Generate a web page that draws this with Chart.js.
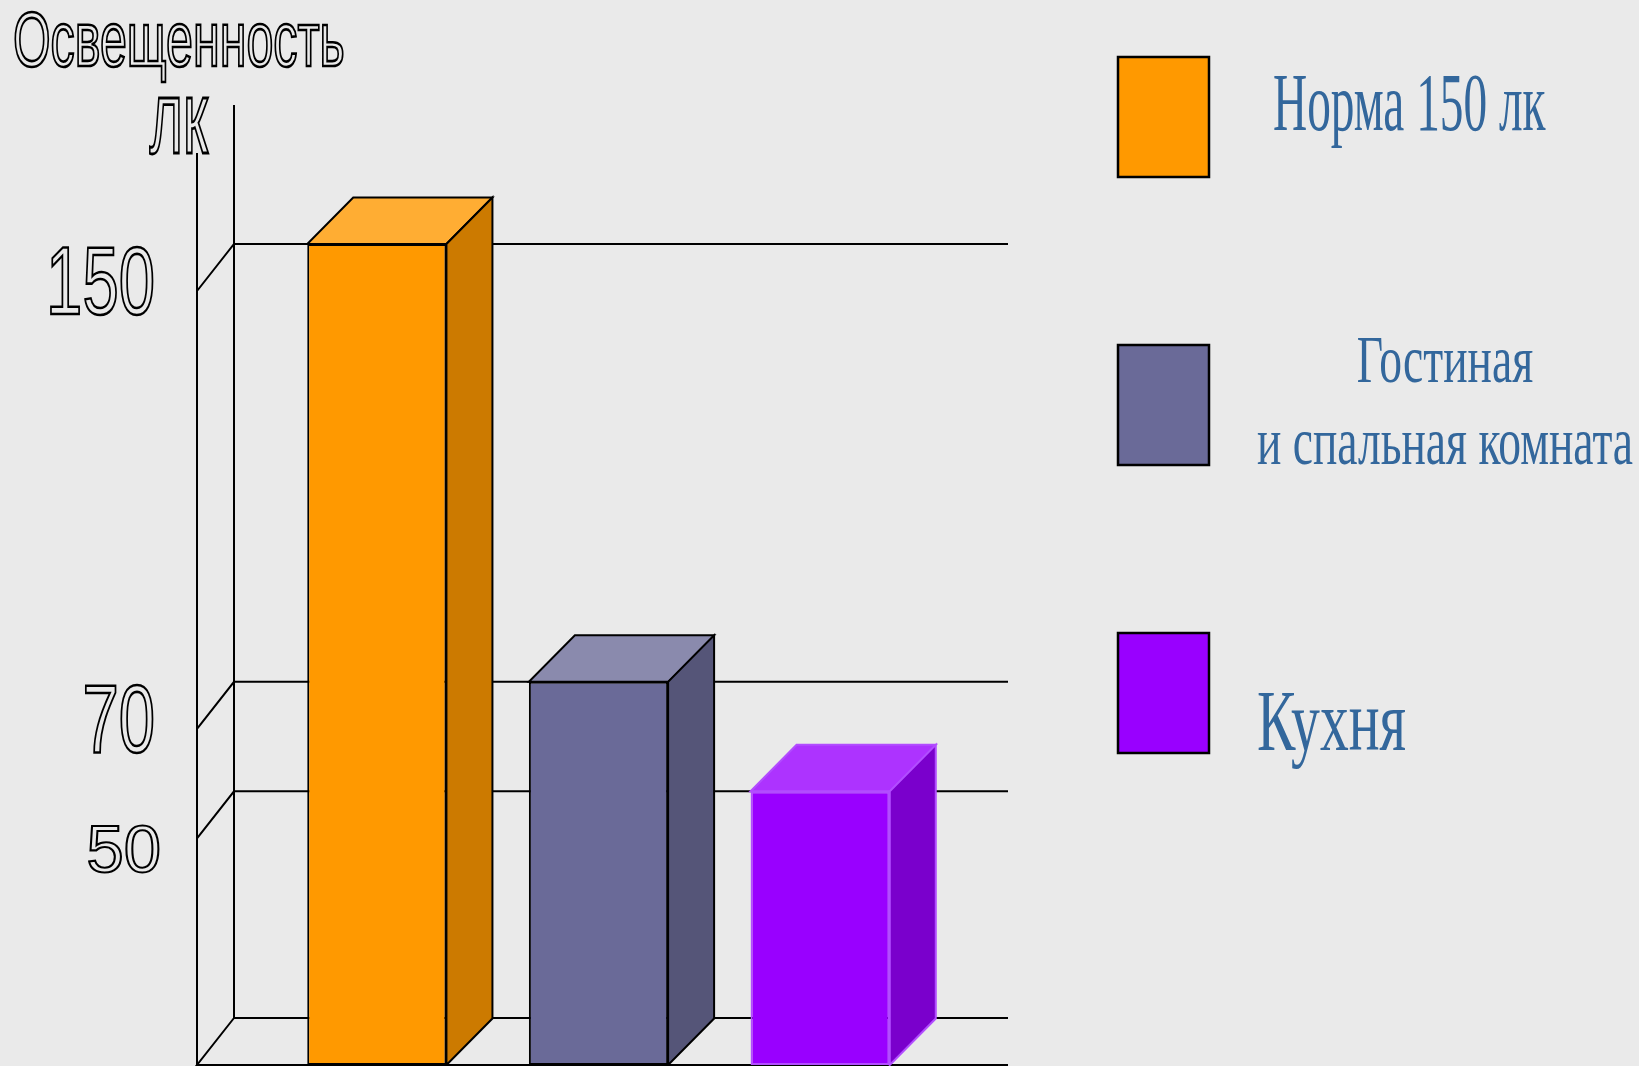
<!DOCTYPE html>
<html lang="ru">
<head>
<meta charset="utf-8">
<title>Освещенность</title>
<script src="https://cdn.jsdelivr.net/npm/chart.js@4.4.1/dist/chart.umd.min.js"></script>
<style>
  html, body { margin: 0; padding: 0; background: #eaeaea; overflow: hidden; }
  canvas { display: block; }
</style>
</head>
<body>
<canvas id="lightChart" width="1639" height="1066"></canvas>
<script>
const rooms = ['Норма 150 лк', 'Гостиная и спальная комната', 'Кухня'];
const legendLines = [['Норма 150 лк'], ['Гостиная', 'и спальная комната'], ['Кухня']];
const illuminance = [150, 70, 50];
const tickValues = [150, 70, 50];
const axisTitle = ['Освещенность', 'лк'];

// colours of the three faces of each box
const frontColors = ['#ff9900', '#6a6a98', '#9900ff'];
const topColors = ['#ffad33', '#8a8aad', '#ad33ff'];
const sideColors = ['#cc7a00', '#555578', '#7a00cc'];
const edgeColors = ['#000000', '#000000', '#b24dff'];

const BG = '#eaeaea';
const WALL_DX = 37, WALL_DY = 47;
const BAR_DX = 46, BAR_DY = 46.5;

// text squeezed sideways; for outlines the pen is widened so upright strokes stay dark
function scaledText(ctx, text, x, y, sx, align, mode) {
    ctx.save();
    ctx.translate(x, y);
    ctx.scale(sx, 1);
    ctx.textAlign = align;
    if (mode === 'stroke') {
        ctx.lineWidth = 2.1 / Math.sqrt(sx);
        ctx.strokeText(text, 0, 0);
    } else {
        ctx.fillText(text, 0, 0);
    }
    ctx.restore();
}

function poly(ctx, pts, fill, stroke) {
    ctx.beginPath();
    ctx.moveTo(pts[0][0], pts[0][1]);
    for (let i = 1; i < pts.length; i++) ctx.lineTo(pts[i][0], pts[i][1]);
    ctx.closePath();
    ctx.fillStyle = fill;
    ctx.fill();
    ctx.strokeStyle = stroke;
    ctx.lineWidth = 2;
    ctx.lineJoin = 'miter';
    ctx.stroke();
}

const wallPlugin = {
    id: 'wall',
    beforeDatasetsDraw(chart) {
        const ctx = chart.ctx;
        const area = chart.chartArea;
        const y = chart.scales.y;
        const frontX = area.left - 69;
        const backX = frontX + WALL_DX;
        const rightX = area.right + 77;

        ctx.save();
        ctx.strokeStyle = '#000';
        ctx.lineWidth = 2;
        ctx.beginPath();
        // vertical axes
        ctx.moveTo(backX, 105);
        ctx.lineTo(backX, area.bottom - WALL_DY);
        ctx.moveTo(frontX, 153);
        ctx.lineTo(frontX, area.bottom);
        // floor
        ctx.moveTo(backX, area.bottom - WALL_DY);
        ctx.lineTo(rightX, area.bottom - WALL_DY);
        ctx.moveTo(backX, area.bottom - WALL_DY);
        ctx.lineTo(frontX, area.bottom);
        ctx.lineTo(rightX, area.bottom);
        // grid lines on the back wall
        tickValues.forEach(v => {
            const py = y.getPixelForValue(v);
            ctx.moveTo(rightX, py);
            ctx.lineTo(backX, py);
            ctx.lineTo(frontX, py + WALL_DY);
        });
        ctx.stroke();

        // outlined tick labels
        ctx.strokeStyle = '#000';
        ctx.textBaseline = 'middle';
        tickValues.forEach(v => {
            const py = y.getPixelForValue(v);
            if (v === 50) {
                ctx.font = '67px "Liberation Sans", Arial, sans-serif';
                scaledText(ctx, String(v), 161, py + 62, 1.0, 'right', 'stroke');
            } else {
                ctx.font = '96px "Liberation Sans", Arial, sans-serif';
                scaledText(ctx, String(v), 155, py + 44, 0.68, 'right', 'stroke');
            }
        });

        // axis title
        ctx.textBaseline = 'alphabetic';
        ctx.font = '78px "Liberation Sans", Arial, sans-serif';
        scaledText(ctx, axisTitle[0], 13, 66, 0.62, 'left', 'stroke');
        ctx.font = '104px "Liberation Sans", Arial, sans-serif';
        scaledText(ctx, axisTitle[1], 208, 153, 0.55, 'right', 'stroke');
        ctx.restore();
    },
    afterDatasetsDraw(chart) {
        const ctx = chart.ctx;
        const meta = chart.getDatasetMeta(0);
        ctx.save();
        meta.data.forEach((bar, i) => {
            const p = bar.getProps(['x', 'y', 'base', 'width'], true);
            const x1 = p.x - p.width / 2;
            const x2 = p.x + p.width / 2;
            const top = p.y;
            const bottom = p.base;
            poly(ctx, [[x1, top], [x2, top], [x2 + BAR_DX, top - BAR_DY], [x1 + BAR_DX, top - BAR_DY]],
                topColors[i], edgeColors[i]);
            poly(ctx, [[x2, top], [x2 + BAR_DX, top - BAR_DY], [x2 + BAR_DX, bottom - BAR_DY], [x2, bottom]],
                sideColors[i], edgeColors[i]);
        });
        ctx.restore();
    }
};

const legendPlugin = {
    id: 'sideLegend',
    afterDraw(chart) {
        const ctx = chart.ctx;
        const colors = chart.data.datasets[0].backgroundColor;
        const textStyle = [
            { size: 83, sx: 0.57, x: 1273, align: 'left', base: 73, gap: 0 },
            { size: 68, sx: 0.67, x: 1445, align: 'center', base: 37, gap: 82 },
            { size: 86, sx: 0.67, x: 1257, align: 'left', base: 117, gap: 0 }
        ];
        ctx.save();
        legendLines.forEach((lines, i) => {
            const top = 57 + i * 288;
            ctx.fillStyle = colors[i];
            ctx.fillRect(1118, top, 91, 120);
            ctx.strokeStyle = '#000';
            ctx.lineWidth = 2.5;
            ctx.strokeRect(1118, top, 91, 120);

            const st = textStyle[i];
            ctx.fillStyle = '#33679c';
            ctx.font = st.size + 'px "Liberation Serif", "Times New Roman", serif';
            ctx.textBaseline = 'alphabetic';
            lines.forEach((line, j) => {
                scaledText(ctx, line, st.x, top + st.base + j * st.gap, st.sx, st.align, 'fill');
            });
        });
        ctx.restore();
    }
};

new Chart(document.getElementById('lightChart'), {
    type: 'bar',
    data: {
        labels: rooms,
        datasets: [{
            label: 'Освещенность, лк',
            data: illuminance,
            backgroundColor: frontColors,
            borderColor: edgeColors,
            borderWidth: 2,
            borderSkipped: false,
            barPercentage: 0.628,
            categoryPercentage: 1,
            clip: false
        }]
    },
    options: {
        responsive: false,
        animation: false,
        devicePixelRatio: 1,
        layout: { padding: { left: 266, right: 708, top: 244, bottom: 1 } },
        plugins: {
            legend: { display: false },
            tooltip: { enabled: false }
        },
        scales: {
            x: { display: false, offset: true },
            y: { display: false, min: 0, max: 150 }
        }
    },
    plugins: [wallPlugin, legendPlugin, {
        id: 'bg',
        beforeDraw(chart) {
            chart.ctx.save();
            chart.ctx.fillStyle = BG;
            chart.ctx.fillRect(0, 0, chart.width, chart.height);
            chart.ctx.restore();
        }
    }]
});
</script>
</body>
</html>
